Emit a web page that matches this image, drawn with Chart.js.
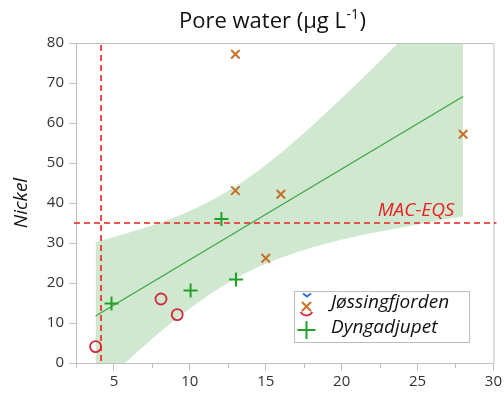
<!DOCTYPE html>
<html>
<head>
<meta charset="utf-8">
<script src="https://cdn.jsdelivr.net/npm/chart.js@4"></script>
<style>
html,body{margin:0;padding:0;background:#fff;}
#wrap{position:relative;width:504px;height:402px;}
</style>
</head>
<body>
<div id="wrap"><canvas id="c" width="504" height="402"></canvas></div>
<script>
// ---- data ----
const jossingX = [13, 13, 16, 15, 28];
const jossingY = [77.2, 43.1, 42.2, 26.2, 57.2];

const dyngaX = [4.84, 10.05, 12.08, 13.04];
const dyngaY = [14.9, 18.1, 36, 20.9];

const otherX = [3.79, 8.1, 9.17];
const otherY = [4.1, 16, 12.1];

const fitX = [3.79, 28];
const fitY = [11.75, 66.6];

const bandX     = [3.79, 5, 6, 8, 10, 12, 14, 16, 18, 20, 22, 24, 26, 28];
const bandUpper = [30.3, 31.5, 32.6, 35.0, 38.0, 41.9, 46.7, 52.5, 59.1, 66.2, 73.5, 81.1, 88.8, 96.6];
const bandLower = [-6.8, -2.5, 0.9, 7.6, 13.6, 18.8, 23.1, 26.3, 28.8, 30.8, 32.5, 33.9, 35.4, 36.6];

const macEqs = 35;       // horizontal reference (MAC-EQS)
const refX = 4.15;       // vertical reference line

const xTicks = [2.5, 5, 7.5, 10, 12.5, 15, 17.5, 20, 22.5, 25, 27.5, 30];
const yTicks = [0, 10, 20, 30, 40, 50, 60, 70, 80];

const titleMain = 'Pore water (µg L';
const titleSup = '-1';
const titleEnd = ')';
const yTitle = 'Nickel';
const refLabel = 'MAC-EQS';
const legendLabels = ['Jøssingfjorden', 'Dyngadjupet'];

// ---- colours ----
const C_ORANGE = '#c8702a';
const C_RED = '#d22a3c';
const C_GREEN = '#23a02a';
const C_FIT = '#3ca63c';
const C_BAND = '#d0e8d0';
const C_REF = '#f01e1e';
const C_AXIS = '#bfbfbf';
const C_TEXT = '#333333';

const pts = (xs, ys) => xs.map((x, i) => ({x: x, y: ys[i]}));

const FONT = '"Open Sans", "DejaVu Sans", sans-serif';

const decor = {
  id: 'decor',
  beforeDatasetsDraw(chart) {
    const ctx = chart.ctx, a = chart.chartArea;
    ctx.save();
    ctx.strokeStyle = C_AXIS;
    ctx.lineWidth = 1;
    ctx.beginPath();
    ctx.moveTo(a.left, a.top + 0.5);
    ctx.lineTo(a.right + 0.5, a.top + 0.5);
    ctx.lineTo(a.right + 0.5, a.bottom);
    ctx.stroke();
    const xs = chart.scales.x;
    ctx.beginPath();
    xTicks.forEach(v => {
      if (v % 5 !== 0) {
        const px = Math.round(xs.getPixelForValue(v)) + 0.5;
        ctx.moveTo(px, a.bottom);
        ctx.lineTo(px, a.bottom + 5);
      }
    });
    ctx.stroke();
    ctx.restore();
  },
  afterDatasetsDraw(chart) {
    const ctx = chart.ctx, a = chart.chartArea;
    const xs = chart.scales.x, ys = chart.scales.y;
    ctx.save();
    ctx.strokeStyle = C_REF;
    ctx.lineWidth = 1.6;
    ctx.setLineDash([6, 4]);
    const hy = ys.getPixelForValue(macEqs);
    ctx.beginPath();
    ctx.moveTo(a.left - 2, hy);
    ctx.lineTo(a.right + 3, hy);
    ctx.stroke();
    const vx = xs.getPixelForValue(refX);
    ctx.beginPath();
    ctx.moveTo(vx, ys.getPixelForValue(79.5));
    ctx.lineTo(vx, ys.getPixelForValue(0));
    ctx.stroke();
    ctx.setLineDash([]);
    ctx.fillStyle = C_REF;
    ctx.font = 'italic 19px ' + FONT;
    ctx.textAlign = 'right';
    ctx.textBaseline = 'alphabetic';
    ctx.fillText(refLabel, a.right - 39, hy - 7);
    ctx.restore();
  },
  afterDraw(chart) {
    const ctx = chart.ctx, a = chart.chartArea;
    ctx.save();
    ctx.fillStyle = '#111';
    ctx.textBaseline = 'alphabetic';
    ctx.textAlign = 'left';
    const f1 = '22px ' + FONT, f2 = '14px ' + FONT;
    ctx.font = f1; const w1 = ctx.measureText(titleMain).width; const w3 = ctx.measureText(titleEnd).width;
    ctx.font = f2; const w2 = ctx.measureText(titleSup).width;
    const tw = w1 + w2 + w3;
    let tx = 272 - tw / 2; const ty = 28;
    ctx.font = f1; ctx.fillText(titleMain, tx, ty);
    ctx.font = f2; ctx.fillText(titleSup, tx + w1 + 0.5, ty - 9);
    ctx.font = f1; ctx.fillText(titleEnd, tx + w1 + w2 + 1, ty);
    ctx.save();
    ctx.translate(27, (a.top + a.bottom) / 2);
    ctx.rotate(-Math.PI / 2);
    ctx.font = 'italic 19px ' + FONT;
    ctx.textAlign = 'center';
    ctx.fillStyle = '#111';
    ctx.fillText(yTitle, 0, 0);
    ctx.restore();
    // legend box
    const lx = 294.5, ly = 291.5, lw = 175, lh = 51;
    ctx.fillStyle = '#fff';
    ctx.fillRect(lx, ly, lw, lh);
    ctx.strokeStyle = '#bdbdbd';
    ctx.lineWidth = 1;
    ctx.strokeRect(lx, ly, lw, lh);
    ctx.strokeStyle = '#2a6fd6';
    ctx.lineWidth = 2;
    ctx.beginPath();
    ctx.moveTo(303, 293.5); ctx.lineTo(307, 296.5); ctx.lineTo(311, 293.5);
    ctx.stroke();
    ctx.strokeStyle = C_RED;
    ctx.lineWidth = 1.8;
    ctx.beginPath();
    ctx.arc(306.5, 309, 6.5, 0.15 * Math.PI, 0.85 * Math.PI);
    ctx.stroke();
    ctx.strokeStyle = C_ORANGE;
    ctx.lineWidth = 2;
    ctx.beginPath();
    ctx.moveTo(302, 302); ctx.lineTo(311, 311);
    ctx.moveTo(311, 302); ctx.lineTo(302, 311);
    ctx.stroke();
    ctx.strokeStyle = C_GREEN;
    ctx.lineWidth = 2;
    ctx.beginPath();
    ctx.moveTo(306.5, 321); ctx.lineTo(306.5, 339);
    ctx.moveTo(297.5, 330); ctx.lineTo(315.5, 330);
    ctx.stroke();
    ctx.fillStyle = '#111';
    ctx.font = 'italic 19px ' + FONT;
    ctx.textAlign = 'left';
    ctx.textBaseline = 'middle';
    ctx.fillText(legendLabels[0], 331, 303);
    ctx.fillText(legendLabels[1], 331, 328);
    ctx.restore();
  }
};

new Chart(document.getElementById('c'), {
  type: 'scatter',
  data: {
    datasets: [
      {type: 'line', label: 'lower', order: 5, data: pts(bandX, bandLower), borderWidth: 0, pointRadius: 0,
       fill: false, cubicInterpolationMode: 'monotone', borderColor: 'rgba(0,0,0,0)', clip: 0},
      {type: 'line', label: 'upper', order: 4, data: pts(bandX, bandUpper), borderWidth: 0, pointRadius: 0,
       fill: '-1', backgroundColor: C_BAND, cubicInterpolationMode: 'monotone', borderColor: 'rgba(0,0,0,0)', clip: 0},
      {type: 'line', label: 'fit', order: 3, data: pts(fitX, fitY), borderColor: C_FIT, borderWidth: 1.2,
       pointRadius: 0, fill: false},
      {label: 'other', order: 1, data: pts(otherX, otherY), pointStyle: 'circle', pointRadius: 5.5,
       borderColor: C_RED, backgroundColor: 'rgba(0,0,0,0)', pointBorderWidth: 1.8},
      {label: legendLabels[0], order: 1, data: pts(jossingX, jossingY), pointStyle: 'crossRot', pointRadius: 6,
       borderColor: C_ORANGE, pointBorderWidth: 2},
      {label: legendLabels[1], order: 1, data: pts(dyngaX, dyngaY), pointStyle: 'cross', pointRadius: 7,
       borderColor: C_GREEN, pointBorderWidth: 2}
    ]
  },
  options: {
    responsive: false,
    animation: false,
    devicePixelRatio: 1,
    layout: {padding: {top: 43, right: 10, left: 0, bottom: 0}},
    plugins: {legend: {display: false}, tooltip: {enabled: false}, title: {display: false},
              filler: {drawTime: 'beforeDatasetsDraw'}},
    scales: {
      x: {
        type: 'linear', min: 2.5, max: 30,
        afterBuildTicks: s => { s.ticks = xTicks.map(v => ({value: v})); },
        afterFit: s => { s.height = 39; },
        ticks: {
          color: C_TEXT, font: {family: FONT, size: 15}, padding: 2, maxRotation: 0, autoSkip: false,
          callback: v => (v % 5 === 0 ? String(v) : '')
        },
        grid: {drawOnChartArea: false, tickLength: 8,
               tickColor: c => (c.tick && c.tick.value % 5 === 0 ? C_AXIS : 'rgba(0,0,0,0)')},
        border: {color: C_AXIS}
      },
      y: {
        type: 'linear', min: 0, max: 80,
        afterBuildTicks: s => { s.ticks = yTicks.map(v => ({value: v})); },
        afterFit: s => { s.width = 76; },
        ticks: {color: C_TEXT, font: {family: FONT, size: 15}, padding: 5},
        grid: {drawOnChartArea: false, tickLength: 7, tickColor: C_AXIS},
        border: {color: C_AXIS}
      }
    }
  },
  plugins: [decor]
});
</script>
</body>
</html>
